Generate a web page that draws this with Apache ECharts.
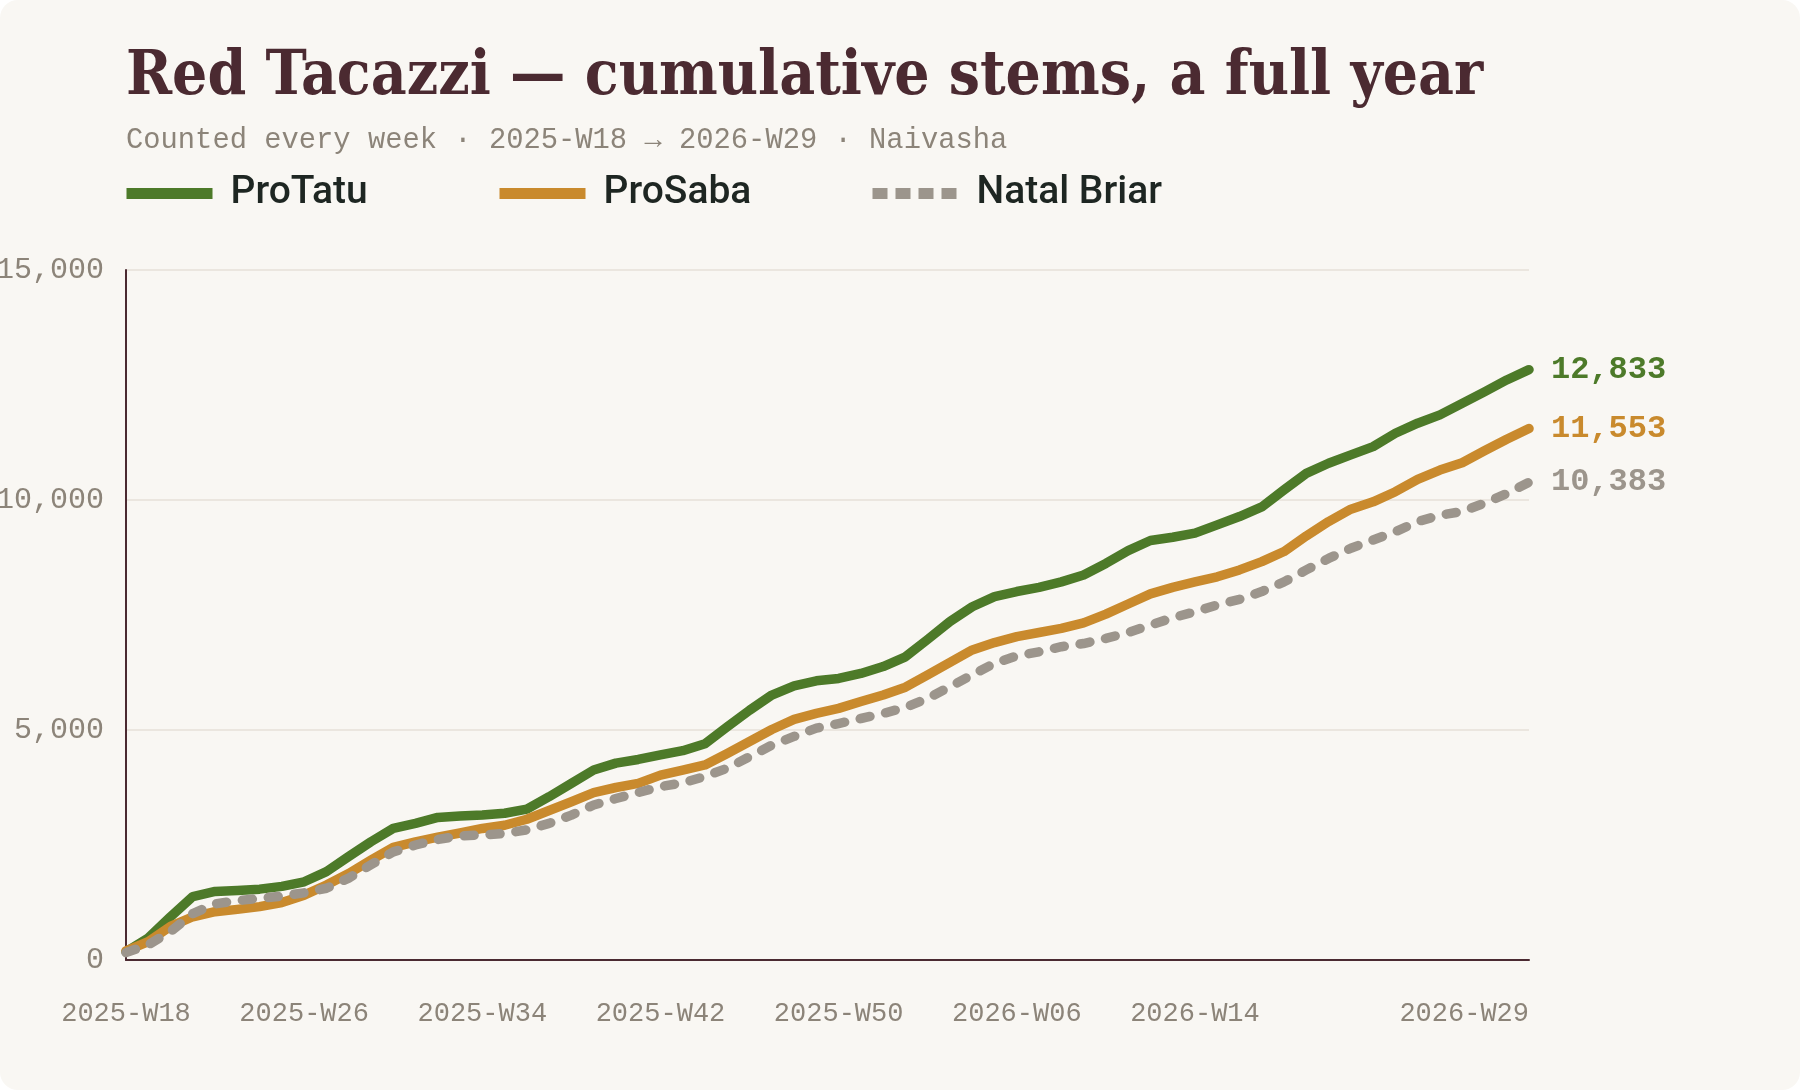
<!DOCTYPE html>
<html>
<head>
<meta charset="utf-8">
<title>Red Tacazzi — cumulative stems</title>
<script src="https://cdn.jsdelivr.net/npm/echarts@6/dist/echarts.min.js"></script>
<style>
  html, body { margin: 0; padding: 0; background: #ffffff; }
  #main { width: 1800px; height: 1090px; background: #f9f7f3; border-radius: 18px; }
</style>
</head>
<body>
<div id="main"></div>
<script>
const myChart = echarts.init(document.getElementById('main'));

// weeks, 2025-W18 .. 2026-W29
const weeks = [
  '2025-W18', '2025-W19', '2025-W20', '2025-W21', '2025-W22', '2025-W23', '2025-W24', '2025-W25',
  '2025-W26', '2025-W27', '2025-W28', '2025-W29', '2025-W30', '2025-W31', '2025-W32', '2025-W33',
  '2025-W34', '2025-W35', '2025-W36', '2025-W37', '2025-W38', '2025-W39', '2025-W40', '2025-W41',
  '2025-W42', '2025-W43', '2025-W44', '2025-W45', '2025-W46', '2025-W47', '2025-W48', '2025-W49',
  '2025-W50', '2025-W51', '2025-W52', '2026-W01', '2026-W02', '2026-W03', '2026-W04', '2026-W05',
  '2026-W06', '2026-W07', '2026-W08', '2026-W09', '2026-W10', '2026-W11', '2026-W12', '2026-W13',
  '2026-W14', '2026-W15', '2026-W16', '2026-W17', '2026-W18', '2026-W19', '2026-W20', '2026-W21',
  '2026-W22', '2026-W23', '2026-W24', '2026-W25', '2026-W26', '2026-W27', '2026-W28', '2026-W29'
];

const proTatu = [
  180, 480, 940, 1380, 1490, 1510, 1540, 1600, 1700, 1920, 2250, 2570, 2860, 2970, 3100, 3130,
  3150, 3190, 3280, 3550, 3840, 4130, 4280, 4360, 4460, 4550, 4700, 5070, 5430, 5760, 5960, 6070,
  6120, 6230, 6380, 6590, 6970, 7360, 7680, 7900, 8010, 8100, 8220, 8370, 8620, 8900, 9120, 9190,
  9280, 9460, 9640, 9850, 10220, 10580, 10800, 10980, 11160, 11450, 11670, 11850, 12100, 12350, 12610, 12833
];

const proSaba = [
  200, 400, 730, 940, 1050, 1100, 1160, 1250, 1410, 1630, 1880, 2170, 2450, 2570, 2670, 2760,
  2860, 2930, 3060, 3250, 3440, 3640, 3750, 3840, 4020, 4130, 4240, 4490, 4750, 5010, 5230, 5360,
  5470, 5620, 5760, 5930, 6200, 6470, 6740, 6900, 7030, 7120, 7210, 7330, 7520, 7740, 7960, 8100,
  8220, 8330, 8480, 8660, 8880, 9220, 9530, 9800, 9960, 10180, 10450, 10650, 10810, 11070, 11320, 11553
];

const natalBriar = [
  160, 330, 620, 1010, 1220, 1290, 1340, 1390, 1460, 1560, 1780, 2070, 2350, 2500, 2620, 2700,
  2720, 2750, 2830, 2970, 3150, 3370, 3510, 3640, 3770, 3850, 3990, 4170, 4420, 4670, 4860, 5040,
  5140, 5250, 5360, 5490, 5690, 5940, 6200, 6450, 6610, 6700, 6810, 6880, 6990, 7120, 7280, 7440,
  7570, 7720, 7840, 8010, 8220, 8480, 8730, 8950, 9130, 9310, 9530, 9670, 9750, 9930, 10140, 10383
];

// which week labels are printed
const shownWeeks = ['2025-W18', '2025-W26', '2025-W34', '2025-W42', '2025-W50', '2026-W06', '2026-W14', '2026-W29'];

const GREEN = '#4d7a29';
const ORANGE = '#c98a2d';
const GREY = '#9c958c';
const INK = '#4b2a31';
const MUTED = '#8c8479';
const MONO = '"Liberation Mono", "DejaVu Sans Mono", monospace';

const fmt = v => Number(v).toLocaleString('en-US');

function legendFor(name, left, lineStyle) {
  return {
    data: [name],
    left: left,
    top: 174,
    padding: 0,
    itemWidth: 86,
    itemHeight: 12,
    selectedMode: false,
    itemStyle: { opacity: 0 },
    lineStyle: lineStyle,
    textStyle: {
      fontFamily: 'Roboto, Inter, sans-serif',
      fontSize: 39,
      fontWeight: 500,
      color: '#1e2622',
      padding: [0, 0, 0, 13]
    }
  };
}

function endLabel(color) {
  return {
    show: true,
    distance: 22,
    formatter: p => fmt(p.value),
    color: color,
    fontFamily: MONO,
    fontSize: 32,
    fontWeight: 'bold'
  };
}

option = {
  animation: false,
  backgroundColor: 'transparent',
  title: [
    {
      text: 'Red Tacazzi — cumulative stems, a full year',
      left: 126,
      top: 47,
      padding: 0,
      textStyle: {
        fontFamily: '"DejaVu Serif Condensed", "DejaVu Serif", serif',
        fontWeight: 'bold',
        fontSize: 61.7,
        color: INK
      }
    },
    {
      text: 'Counted every week · 2025-W18 → 2026-W29 · Naivasha',
      left: 126,
      top: 126,
      padding: 0,
      textStyle: {
        fontFamily: MONO,
        fontWeight: 'normal',
        fontSize: 28.8,
        color: MUTED
      }
    }
  ],
  legend: [
    legendFor('ProTatu', 121, { width: 11, color: GREEN, type: 'solid', cap: 'butt' }),
    legendFor('ProSaba', 494, { width: 11, color: ORANGE, type: 'solid', cap: 'butt' }),
    legendFor('Natal Briar', 867, { width: 11, color: GREY, type: [15, 8], cap: 'butt' })
  ],
  grid: {
    left: 126,
    right: 271,
    top: 270,
    bottom: 130,
    containLabel: false,
    outerBoundsMode: 'none'
  },
  xAxis: {
    type: 'category',
    data: weeks,
    boundaryGap: false,
    axisLine: { show: true, lineStyle: { color: INK, width: 2 } },
    axisTick: { show: false },
    axisLabel: {
      interval: (i, v) => shownWeeks.indexOf(v) !== -1,
      alignMaxLabel: 'right',
      margin: 40,
      fontFamily: MONO,
      fontSize: 27,
      color: MUTED
    },
    splitLine: { show: false }
  },
  yAxis: {
    type: 'value',
    min: 0,
    max: 15000,
    interval: 5000,
    axisLine: { show: true, lineStyle: { color: INK, width: 2 } },
    axisTick: { show: false },
    axisLabel: {
      formatter: v => fmt(v),
      margin: 22,
      fontFamily: MONO,
      fontSize: 30,
      color: MUTED
    },
    splitLine: { show: true, lineStyle: { color: '#e6e0d8', width: 1.5 } }
  },
  series: [
    {
      name: 'ProTatu',
      type: 'line',
      data: proTatu,
      symbol: 'none',
      color: GREEN,
      lineStyle: { width: 9.5, color: GREEN, cap: 'round', join: 'round' },
      endLabel: endLabel(GREEN)
    },
    {
      name: 'ProSaba',
      type: 'line',
      data: proSaba,
      symbol: 'none',
      color: ORANGE,
      lineStyle: { width: 9.5, color: ORANGE, cap: 'round', join: 'round' },
      endLabel: endLabel(ORANGE)
    },
    {
      name: 'Natal Briar',
      type: 'line',
      data: natalBriar,
      symbol: 'none',
      color: GREY,
      lineStyle: { width: 9.5, color: GREY, type: [10, 16], cap: 'round', join: 'round' },
      endLabel: endLabel(GREY)
    }
  ]
};

myChart.setOption(option);
</script>
</body>
</html>
